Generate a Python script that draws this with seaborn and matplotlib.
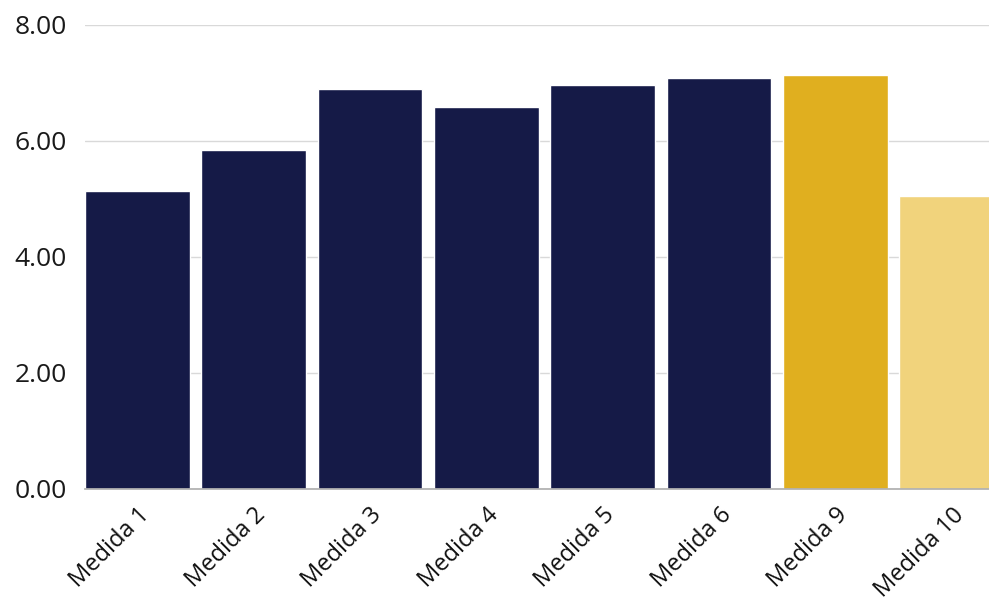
import matplotlib
matplotlib.use("Agg")
from matplotlib import pyplot as plt
import seaborn as sns
import pandas as pd

FIG_SIZE = (9.89, 6.04)

categories = ["Medida 1", "Medida 2", "Medida 3", "Medida 4", "Medida 5",
              "Medida 6", "Medida 9", "Medida 10"]
values = [5.14, 5.84, 6.90, 6.59, 6.97, 7.09, 7.14, 5.05]
bar_colors = ["#151a47"] * 6 + ["#e0af1f", "#f1d37c"]

sns.set_theme(style="white")
plt.rcParams["font.family"] = ["Open Sans", "DejaVu Sans"]

df = pd.DataFrame({"medida": categories, "valor": values})

fig = plt.figure(figsize=FIG_SIZE, dpi=100)
ax = fig.add_axes([85 / 989, 1 - 489 / 604, 1 - 85 / 989, (489 - 25) / 604])
sns.barplot(data=df, x="medida", y="valor", hue="medida", palette=bar_colors,
            width=0.9, saturation=1, legend=False, ax=ax, zorder=3)

ax.set_ylim(0, 8)
# bars run flush to the left edge and the last one is clipped on the right
ax.set_xlim(-0.45, 7.32)
ax.set_yticks([0, 2, 4, 6, 8])
ax.set_yticklabels(["{:.2f}".format(v) for v in [0, 2, 4, 6, 8]], fontsize=19, color="#1a1a1a")
ax.set_xticks(range(len(categories)))
ax.set_xticklabels(categories, rotation=45, ha="right", rotation_mode="anchor",
                   fontsize=17, color="#111111")
ax.tick_params(axis="x", length=0, pad=10)
ax.tick_params(axis="y", length=0, pad=13)
ax.yaxis.grid(True, color="#d9d9d9", linewidth=1, zorder=0)
ax.set_xlabel("")
ax.set_ylabel("")
for side in ["top", "right", "left"]:
    ax.spines[side].set_visible(False)
ax.spines["bottom"].set_color("#b0b0b0")
ax.spines["bottom"].set_zorder(4)

fig.savefig("out.png", dpi=100)
